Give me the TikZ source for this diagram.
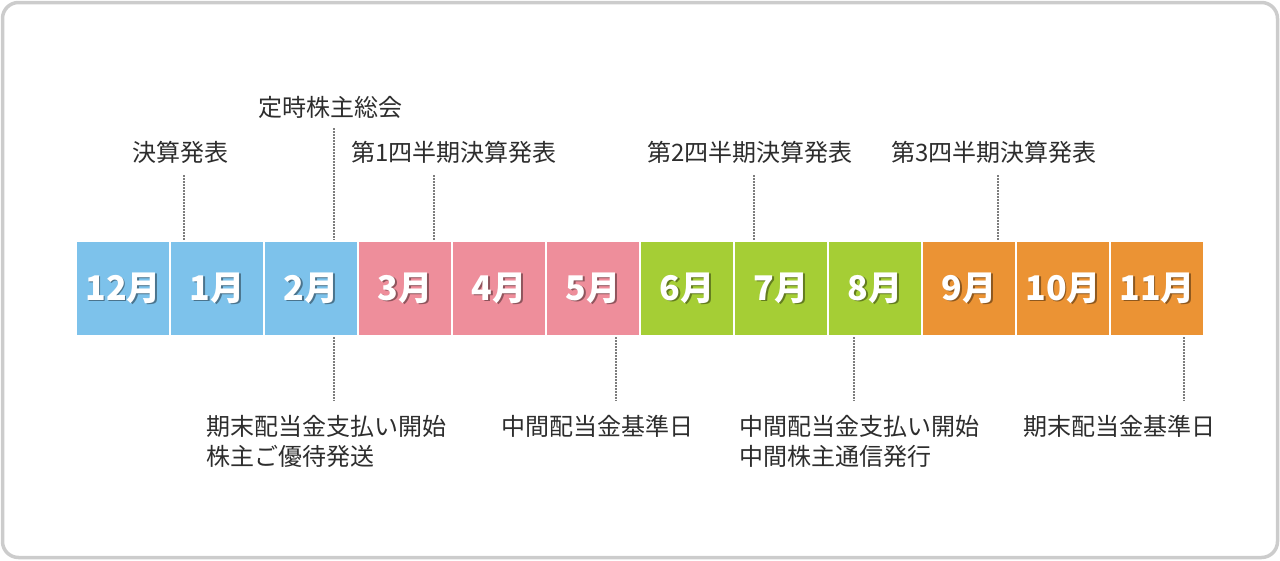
\documentclass[tikz,border=0pt]{standalone}
\usepackage{fontspec}
\usepackage{xcolor}
\usepackage{tikz}
\usetikzlibrary{positioning, calc}
\newfontfamily\jpfont{Noto Sans CJK JP}
\definecolor{winterblue}{RGB}{125,194,235}
\definecolor{springpink}{RGB}{238,142,155}
\definecolor{summergreen}{RGB}{165,206,53}
\definecolor{autumnorange}{RGB}{235,147,52}
\definecolor{framegray}{RGB}{204,204,204}
\definecolor{tickgray}{RGB}{125,125,125}
\definecolor{textdark}{RGB}{45,45,45}
% month label with a small drop shadow
\newcommand{\monthtext}[2]{\makebox[0pt][l]{\hspace{1.5pt}\raisebox{-1.5pt}{\textcolor{#1!60!black}{#2}}}#2}

\begin{document}
\begin{tikzpicture}[x=1pt, y=-1pt,
    %% Styles
    month/.style={
      rectangle, anchor=north west,
      minimum width=92pt, minimum height=93pt,
      inner sep=0pt, text=white,
      font=\jpfont\bfseries\fontsize{34}{34}\selectfont
    },
    event/.style={
      inner sep=0pt, text=textdark, align=left,
      font=\jpfont\fontsize{24}{30}\selectfont
    },
    tick/.style={draw=tickgray, line width=2.8pt, dash pattern=on 2pt off 1pt}
  ]

  %% ── Frame ─────────────────────────────────────────────────
  \useasboundingbox (0,0) rectangle (1280,560);
  \draw[framegray, line width=3.5pt, rounded corners=16pt] (2.5,2.5) rectangle (1277.5,557.5);

  %% ── Months  (y = 242) ─────────────────────────────────────
  \node[month, fill=winterblue]   (m12) at (77,242)   {\monthtext{winterblue}{12月}};
  \node[month, fill=winterblue]   (m1)  at (171,242)  {\monthtext{winterblue}{1月}};
  \node[month, fill=winterblue]   (m2)  at (265,242)  {\monthtext{winterblue}{2月}};
  \node[month, fill=springpink]   (m3)  at (359,242)  {\monthtext{springpink}{3月}};
  \node[month, fill=springpink]   (m4)  at (453,242)  {\monthtext{springpink}{4月}};
  \node[month, fill=springpink]   (m5)  at (547,242)  {\monthtext{springpink}{5月}};
  \node[month, fill=summergreen]  (m6)  at (641,242)  {\monthtext{summergreen}{6月}};
  \node[month, fill=summergreen]  (m7)  at (735,242)  {\monthtext{summergreen}{7月}};
  \node[month, fill=summergreen]  (m8)  at (829,242)  {\monthtext{summergreen}{8月}};
  \node[month, fill=autumnorange] (m9)  at (923,242)  {\monthtext{autumnorange}{9月}};
  \node[month, fill=autumnorange] (m10) at (1017,242) {\monthtext{autumnorange}{10月}};
  \node[month, fill=autumnorange] (m11) at (1111,242) {\monthtext{autumnorange}{11月}};

  %% ── Events above ──────────────────────────────────────────
  \node[event] (kessan)  at (180,152) {決算発表};
  \node[event] (soukai)  at (330,107) {定時株主総会};
  \node[event] (q1)      at (454,152) {第1四半期決算発表};
  \node[event] (q2)      at (750,152) {第2四半期決算発表};
  \node[event] (q3)      at (994,152) {第3四半期決算発表};

  %% ── Events below ──────────────────────────────────────────
  \node[event, anchor=north west] (kimatsu) at (206,415)
    {期末配当金支払い開始\\株主ご優待発送};
  \node[event, anchor=north] (chukanKijun) at (597,415) {中間配当金基準日};
  \node[event, anchor=north west] (chukan) at (739,415)
    {中間配当金支払い開始\\中間株主通信発行};
  \node[event, anchor=north] (kimatsuKijun) at (1119,415) {期末配当金基準日};

  %% ── Ticks ─────────────────────────────────────────────────
  \coordinate (tKessan) at (184,175);
  \coordinate (tSoukai) at (334,128);
  \coordinate (tQ1)     at (434,175);
  \coordinate (tQ2)     at (754,175);
  \coordinate (tQ3)     at (998,175);
  \coordinate (bKimatsu)      at (334,401);
  \coordinate (bChukanKijun)  at (616,401);
  \coordinate (bChukan)       at (854,401);
  \coordinate (bKimatsuKijun) at (1184,401);

  \draw[tick, shorten >=2pt] (tKessan) -- (tKessan |- m1.north);
  \draw[tick, shorten >=2pt] (tSoukai) -- (tSoukai |- m2.north);
  \draw[tick, shorten >=2pt] (tQ1) -- (tQ1 |- m3.north);
  \draw[tick, shorten >=2pt] (tQ2) -- (tQ2 |- m7.north);
  \draw[tick, shorten >=2pt] (tQ3) -- (tQ3 |- m9.north);

  \draw[tick, shorten <=2pt] (bKimatsu |- m2.south) -- (bKimatsu);
  \draw[tick, shorten <=2pt] (bChukanKijun |- m5.south) -- (bChukanKijun);
  \draw[tick, shorten <=2pt] (bChukan |- m8.south) -- (bChukan);
  \draw[tick, shorten <=2pt] (bKimatsuKijun |- m11.south) -- (bKimatsuKijun);

\end{tikzpicture}
\end{document}
